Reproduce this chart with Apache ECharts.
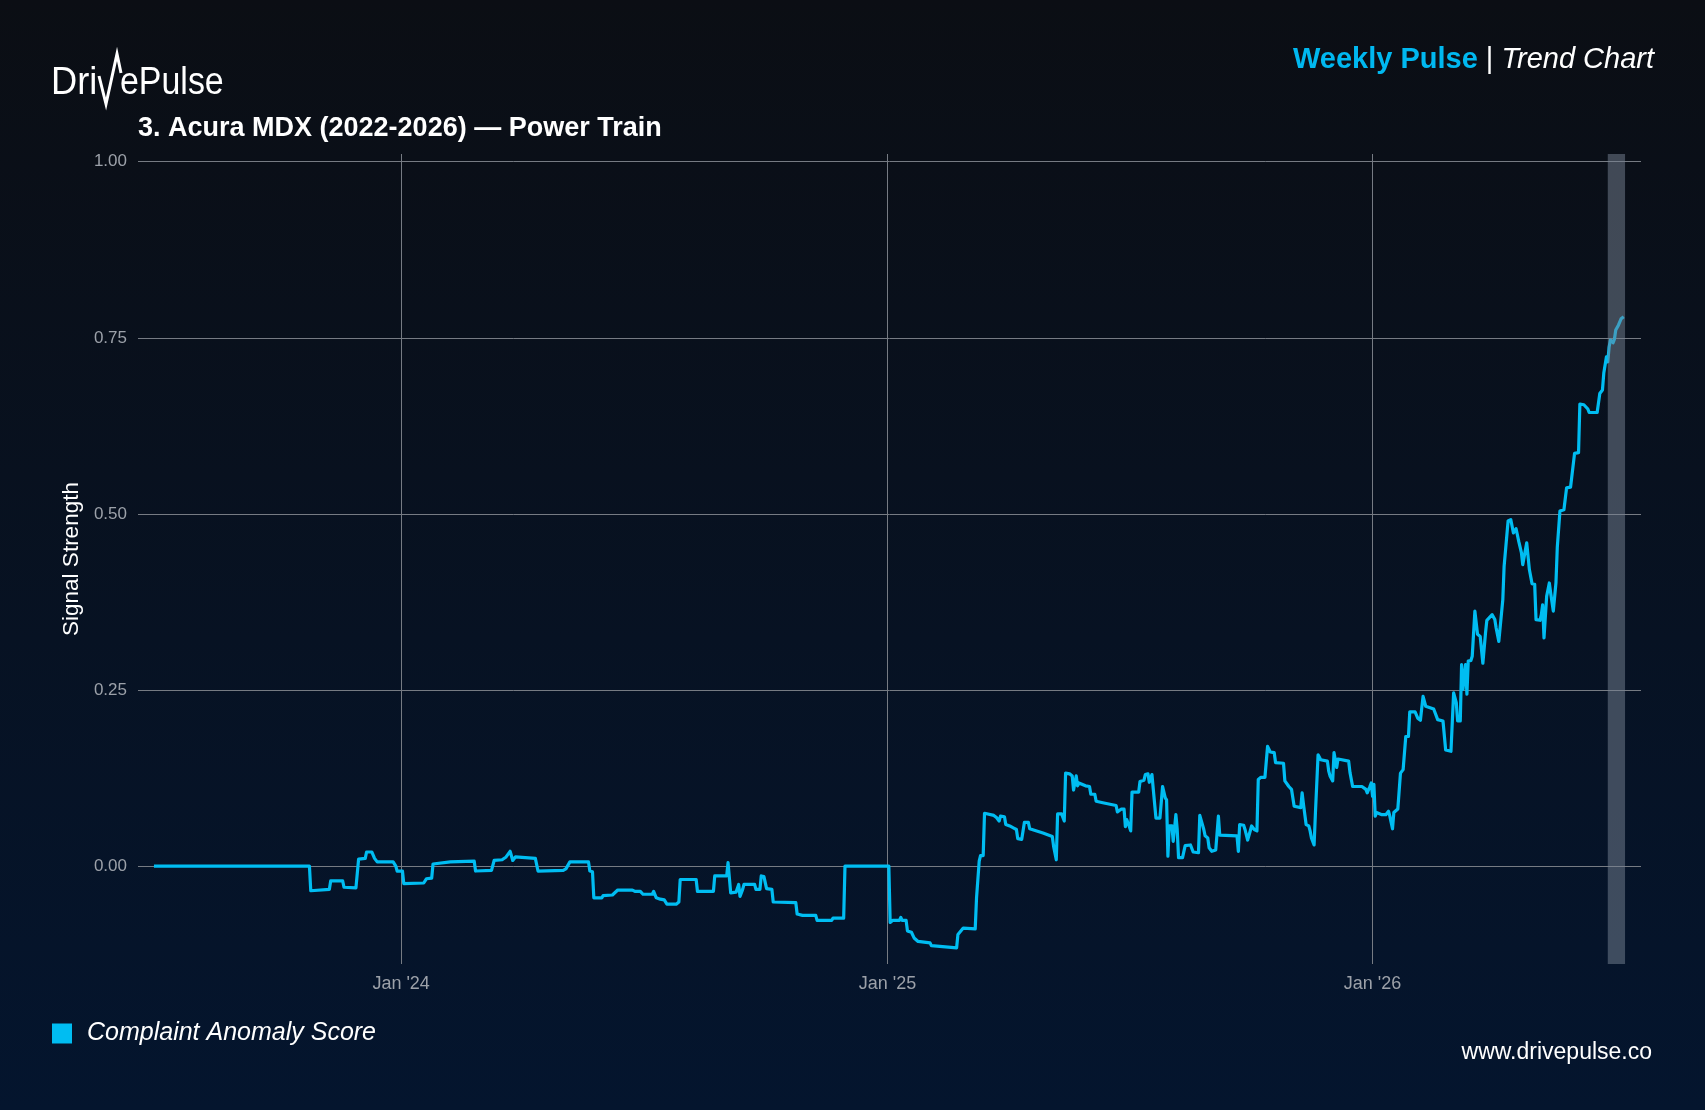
<!DOCTYPE html>
<html>
<head>
<meta charset="utf-8">
<title>DrivePulse Weekly Pulse</title>
<script src="https://cdn.jsdelivr.net/npm/echarts@6/dist/echarts.min.js"></script>
<style>
  html, body { margin: 0; padding: 0; background: #07111f; }
  #chart { width: 1705px; height: 1110px; }
</style>
</head>
<body>
<div id="chart"></div>
<script>
var FONT = "'Liberation Sans', Arial, sans-serif";

var seriesName = 'Complaint Anomaly Score';
var yTicks = [0, 0.25, 0.5, 0.75, 1];
var monthNames = ['Jan', 'Feb', 'Mar', 'Apr', 'May', 'Jun', 'Jul', 'Aug', 'Sep', 'Oct', 'Nov', 'Dec'];
var highlight = ['2026-06-27', '2026-07-10'];

var dates = [
  '2023-06-29', '2023-10-24', '2023-10-25', '2023-11-08', '2023-11-09', '2023-11-18', '2023-11-19', '2023-11-28',
  '2023-11-29', '2023-11-30', '2023-12-05', '2023-12-06', '2023-12-10', '2023-12-12', '2023-12-14', '2023-12-26',
  '2023-12-28', '2023-12-29', '2024-01-02', '2024-01-03', '2024-01-18', '2024-01-20', '2024-01-24', '2024-01-25',
  '2024-02-07', '2024-02-25', '2024-02-26', '2024-03-09', '2024-03-11', '2024-03-17', '2024-03-20', '2024-03-23',
  '2024-03-25', '2024-03-27', '2024-04-11', '2024-04-13', '2024-05-02', '2024-05-04', '2024-05-07', '2024-05-21',
  '2024-05-22', '2024-05-24', '2024-05-25', '2024-05-31', '2024-06-01', '2024-06-08', '2024-06-12', '2024-06-23',
  '2024-06-25', '2024-06-29', '2024-07-01', '2024-07-08', '2024-07-09', '2024-07-11', '2024-07-14', '2024-07-17',
  '2024-07-19', '2024-07-26', '2024-07-28', '2024-07-29', '2024-08-10', '2024-08-11', '2024-08-23', '2024-08-24',
  '2024-09-02', '2024-09-03', '2024-09-05', '2024-09-09', '2024-09-11', '2024-09-12', '2024-09-14', '2024-09-15',
  '2024-09-23', '2024-09-24', '2024-09-27', '2024-09-28', '2024-09-30', '2024-10-02', '2024-10-06', '2024-10-07',
  '2024-10-24', '2024-10-25', '2024-10-29', '2024-11-08', '2024-11-09', '2024-11-20', '2024-11-21', '2024-11-29',
  '2024-11-30', '2025-01-02', '2025-01-03', '2025-01-05', '2025-01-10', '2025-01-11', '2025-01-12', '2025-01-15',
  '2025-01-16', '2025-01-19', '2025-01-21', '2025-01-24', '2025-02-02', '2025-02-03', '2025-02-22', '2025-02-23',
  '2025-02-24', '2025-02-27', '2025-03-08', '2025-03-09', '2025-03-11', '2025-03-12', '2025-03-14', '2025-03-15',
  '2025-03-22', '2025-03-24', '2025-03-26', '2025-03-27', '2025-03-30', '2025-03-31', '2025-04-03', '2025-04-06',
  '2025-04-08', '2025-04-09', '2025-04-12', '2025-04-14', '2025-04-17', '2025-04-18', '2025-04-28', '2025-05-05',
  '2025-05-06', '2025-05-08', '2025-05-09', '2025-05-12', '2025-05-14', '2025-05-15', '2025-05-18', '2025-05-20',
  '2025-05-21', '2025-05-23', '2025-05-24', '2025-05-25', '2025-05-30', '2025-06-02', '2025-06-03', '2025-06-06',
  '2025-06-07', '2025-06-12', '2025-06-22', '2025-06-23', '2025-06-26', '2025-06-28', '2025-06-29', '2025-06-30',
  '2025-07-02', '2025-07-03', '2025-07-04', '2025-07-09', '2025-07-10', '2025-07-13', '2025-07-14', '2025-07-16',
  '2025-07-17', '2025-07-19', '2025-07-20', '2025-07-22', '2025-07-25', '2025-07-27', '2025-07-29', '2025-07-30',
  '2025-07-31', '2025-08-01', '2025-08-03', '2025-08-04', '2025-08-06', '2025-08-07', '2025-08-08', '2025-08-11',
  '2025-08-13', '2025-08-17', '2025-08-18', '2025-08-19', '2025-08-23', '2025-08-24', '2025-08-25', '2025-08-27',
  '2025-08-28', '2025-08-30', '2025-08-31', '2025-09-02', '2025-09-05', '2025-09-07', '2025-09-08', '2025-09-21',
  '2025-09-22', '2025-09-23', '2025-09-26', '2025-09-27', '2025-09-29', '2025-09-30', '2025-10-02', '2025-10-04',
  '2025-10-06', '2025-10-07', '2025-10-09', '2025-10-12', '2025-10-14', '2025-10-16', '2025-10-19', '2025-10-20',
  '2025-10-26', '2025-10-27', '2025-10-30', '2025-11-01', '2025-11-03', '2025-11-08', '2025-11-09', '2025-11-10',
  '2025-11-12', '2025-11-14', '2025-11-15', '2025-11-16', '2025-11-18', '2025-11-19', '2025-11-21', '2025-11-23',
  '2025-11-28', '2025-11-29', '2025-11-30', '2025-12-02', '2025-12-03', '2025-12-04', '2025-12-05', '2025-12-06',
  '2025-12-14', '2025-12-15', '2025-12-17', '2025-12-24', '2025-12-27', '2025-12-28', '2025-12-30', '2025-12-31',
  '2026-01-01', '2026-01-02', '2026-01-03', '2026-01-04', '2026-01-08', '2026-01-11', '2026-01-13', '2026-01-14',
  '2026-01-16', '2026-01-17', '2026-01-20', '2026-01-22', '2026-01-24', '2026-01-26', '2026-01-28', '2026-01-29',
  '2026-02-02', '2026-02-04', '2026-02-06', '2026-02-08', '2026-02-09', '2026-02-10', '2026-02-16', '2026-02-19',
  '2026-02-23', '2026-02-25', '2026-03-01', '2026-03-03', '2026-03-05', '2026-03-06', '2026-03-08', '2026-03-09',
  '2026-03-10', '2026-03-12', '2026-03-13', '2026-03-14', '2026-03-16', '2026-03-17', '2026-03-19', '2026-03-21',
  '2026-03-23', '2026-03-25', '2026-03-27', '2026-03-28', '2026-04-01', '2026-04-03', '2026-04-04', '2026-04-06',
  '2026-04-07', '2026-04-09', '2026-04-10', '2026-04-11', '2026-04-13', '2026-04-15', '2026-04-17', '2026-04-19',
  '2026-04-21', '2026-04-22', '2026-04-23', '2026-04-24', '2026-04-25', '2026-04-27', '2026-04-28', '2026-04-29',
  '2026-05-01', '2026-05-03', '2026-05-04', '2026-05-07', '2026-05-08', '2026-05-09', '2026-05-10', '2026-05-12',
  '2026-05-13', '2026-05-14', '2026-05-15', '2026-05-17', '2026-05-18', '2026-05-19', '2026-05-20', '2026-05-22',
  '2026-05-25', '2026-05-27', '2026-05-30', '2026-06-02', '2026-06-03', '2026-06-05', '2026-06-06', '2026-06-09',
  '2026-06-12', '2026-06-13', '2026-06-19', '2026-06-21', '2026-06-23', '2026-06-24', '2026-06-25', '2026-06-26',
  '2026-06-27', '2026-06-28', '2026-06-29', '2026-07-01', '2026-07-02', '2026-07-03', '2026-07-05', '2026-07-07',
  '2026-07-09', '2026-07-10'
];

var scores = [
  0, 0, -0.035, -0.033, -0.021, -0.021, -0.030, -0.031,
  -0.033, 0.010, 0.011, 0.020, 0.020, 0.011, 0.006, 0.006,
  0.000, -0.007, -0.007, -0.025, -0.024, -0.018, -0.017, 0.003,
  0.006, 0.007, -0.007, -0.006, 0.008, 0.009, 0.013, 0.021,
  0.008, 0.013, 0.011, -0.007, -0.006, -0.004, 0.006, 0.006,
  -0.007, -0.008, -0.045, -0.045, -0.042, -0.041, -0.034, -0.034,
  -0.036, -0.036, -0.040, -0.040, -0.036, -0.045, -0.047, -0.048,
  -0.054, -0.054, -0.051, -0.019, -0.019, -0.036, -0.036, -0.014,
  -0.014, 0.005, -0.038, -0.037, -0.026, -0.043, -0.033, -0.026,
  -0.026, -0.033, -0.033, -0.014, -0.015, -0.032, -0.033, -0.051,
  -0.052, -0.068, -0.070, -0.070, -0.077, -0.077, -0.074, -0.074,
  0.000, 0.000, -0.080, -0.077, -0.077, -0.073, -0.077, -0.077,
  -0.092, -0.094, -0.102, -0.107, -0.109, -0.113, -0.116, -0.097,
  -0.096, -0.088, -0.089, -0.045, 0.007, 0.015, 0.015, 0.075,
  0.072, 0.069, 0.064, 0.071, 0.070, 0.059, 0.057, 0.054,
  0.052, 0.039, 0.038, 0.062, 0.062, 0.053, 0.047, 0.042,
  0.028, 0.009, 0.074, 0.074, 0.064, 0.132, 0.131, 0.128,
  0.108, 0.128, 0.114, 0.118, 0.114, 0.113, 0.102, 0.102,
  0.092, 0.090, 0.086, 0.077, 0.081, 0.081, 0.056, 0.066,
  0.056, 0.050, 0.105, 0.105, 0.120, 0.122, 0.130, 0.131,
  0.119, 0.130, 0.109, 0.068, 0.068, 0.113, 0.097, 0.094,
  0.014, 0.057, 0.057, 0.035, 0.073, 0.052, 0.012, 0.012,
  0.029, 0.030, 0.028, 0.020, 0.019, 0.072, 0.070, 0.052,
  0.043, 0.040, 0.026, 0.021, 0.023, 0.071, 0.044, 0.043,
  0.021, 0.059, 0.058, 0.052, 0.037, 0.038, 0.057, 0.052,
  0.050, 0.123, 0.126, 0.126, 0.170, 0.162, 0.161, 0.147,
  0.146, 0.121, 0.113, 0.109, 0.085, 0.083, 0.104, 0.088,
  0.059, 0.057, 0.050, 0.040, 0.030, 0.075, 0.158, 0.151,
  0.149, 0.135, 0.128, 0.121, 0.161, 0.160, 0.140, 0.152,
  0.149, 0.133, 0.113, 0.113, 0.109, 0.104, 0.113, 0.118,
  0.099, 0.116, 0.071, 0.076, 0.073, 0.073, 0.078, 0.071,
  0.053, 0.076, 0.081, 0.132, 0.137, 0.184, 0.184, 0.219,
  0.219, 0.210, 0.207, 0.241, 0.240, 0.227, 0.223, 0.208,
  0.206, 0.165, 0.163, 0.246, 0.232, 0.206, 0.206, 0.286,
  0.251, 0.286, 0.244, 0.291, 0.292, 0.298, 0.362, 0.329,
  0.326, 0.288, 0.331, 0.349, 0.357, 0.350, 0.338, 0.319,
  0.319, 0.378, 0.426, 0.426, 0.490, 0.492, 0.473, 0.479,
  0.461, 0.459, 0.445, 0.428, 0.428, 0.459, 0.457, 0.421,
  0.401, 0.400, 0.350, 0.349, 0.357, 0.371, 0.324, 0.383,
  0.381, 0.402, 0.388, 0.362, 0.364, 0.402, 0.452, 0.504,
  0.506, 0.537, 0.538, 0.586, 0.584, 0.587, 0.656, 0.655,
  0.649, 0.644, 0.644, 0.671, 0.676, 0.700, 0.702, 0.723,
  0.716, 0.737, 0.747, 0.743, 0.748, 0.761, 0.768, 0.777,
  0.780, 0.780
];

var dom = document.getElementById('chart');
var myChart = echarts.init(dom, null, { renderer: 'canvas' });

function toTime(s) {
  var p = s.split('-');
  return new Date(+p[0], +p[1] - 1, +p[2]).getTime();
}

var DAY = 24 * 3600 * 1000;
var lineData = dates.map(function (d, i) { return [toTime(d), scores[i]]; });
var gridColor = '#767b83';
var lineColor = '#00bdf2';

var option = {
  backgroundColor: {
    type: 'linear', x: 0, y: 0, x2: 0, y2: 1,
    colorStops: [{ offset: 0, color: '#0b0e14' }, { offset: 1, color: '#04152e' }]
  },
  textStyle: { fontFamily: FONT },
  title: {
    text: '3. Acura MDX (2022-2026) \u2014 Power Train',
    left: 138,
    top: 115,
    padding: 0,
    textStyle: { color: '#ffffff', fontSize: 27, fontWeight: 'bold', fontFamily: FONT }
  },
  legend: {
    data: [seriesName],
    left: 52,
    top: 1021,
    padding: 0,
    icon: 'rect',
    itemWidth: 20,
    itemHeight: 20,
    itemGap: 10,
    textStyle: { color: '#ffffff', fontSize: 25, fontStyle: 'italic', fontFamily: FONT, padding: [0, 0, 0, 10] }
  },
  grid: { left: 138, right: 64, top: 154, bottom: 146, containLabel: false },
  xAxis: {
    type: 'time',
    min: toTime('2023-06-17'),
    max: toTime('2026-07-22'),
    minInterval: 365 * DAY,
    axisLine: { show: false },
    axisTick: { show: false },
    axisLabel: {
      showMinLabel: false,
      showMaxLabel: false,
      color: '#9ca1a9',
      fontSize: 18,
      margin: 11,
      formatter: function (v) {
        var d = new Date(v);
        if (d.getMonth() !== 0 || d.getDate() !== 1) { return ''; }
        return monthNames[d.getMonth()] + " '" + String(d.getFullYear()).slice(2);
      }
    },
    splitLine: { show: true, showMinLine: false, showMaxLine: false, lineStyle: { color: gridColor, width: 1 } }
  },
  yAxis: {
    type: 'value',
    min: -0.139,
    max: 1.011,
    name: 'Signal Strength',
    nameLocation: 'middle',
    nameGap: 51,
    nameTextStyle: { color: '#ffffff', fontSize: 22.5, fontFamily: FONT },
    axisLine: { show: false },
    axisTick: { show: false, customValues: yTicks },
    axisLabel: {
      customValues: yTicks,
      color: '#9ca1a9',
      fontSize: 17,
      margin: 11,
      formatter: function (v) { return v.toFixed(2); }
    },
    splitLine: { show: true, lineStyle: { color: gridColor, width: 1 } }
  },
  series: [
    {
      name: seriesName,
      type: 'line',
      data: lineData,
      showSymbol: false,
      symbol: 'none',
      lineStyle: { color: lineColor, width: 3.2, join: 'round' },
      itemStyle: { color: lineColor },
      z: 3
    },
    {
      name: 'highlight',
      type: 'line',
      data: [],
      z: 6,
      markArea: {
        silent: true,
        z: 6,
        itemStyle: { color: 'rgba(120,132,148,0.5)' },
        data: [[{ xAxis: toTime(highlight[0]) }, { xAxis: toTime(highlight[1]) }]]
      }
    }
  ],
  graphic: [
    { type: 'text', left: 51, top: 64, scaleX: 0.93,
      style: { text: 'Dri', fill: '#ffffff', font: '39px ' + FONT } },
    { type: 'polyline', shape: { points: [[99, 76], [106, 104], [117, 54], [121, 73]] },
      style: { stroke: '#ffffff', lineWidth: 3, fill: null, lineJoin: 'miter' } },
    { type: 'text', left: 120, top: 64, scaleX: 0.87,
      style: { text: 'ePulse', fill: '#ffffff', font: '39px ' + FONT } },
    { type: 'text', right: 51, top: 45,
      style: {
        text: '{a|Weekly Pulse}{b| | }{c|Trend Chart}',
        rich: {
          a: { fill: '#00b8f0', fontSize: 29, fontWeight: 'bold', fontFamily: FONT },
          b: { fill: '#ffffff', fontSize: 29, fontFamily: FONT },
          c: { fill: '#ffffff', fontSize: 29, fontStyle: 'italic', fontFamily: FONT }
        }
      } },
    { type: 'text', right: 53, top: 1041,
      style: { text: 'www.drivepulse.co', fill: '#ffffff', font: '23px ' + FONT } }
  ]
};

if (option && typeof option === 'object') {
  myChart.setOption(option);
}
</script>
</body>
</html>
